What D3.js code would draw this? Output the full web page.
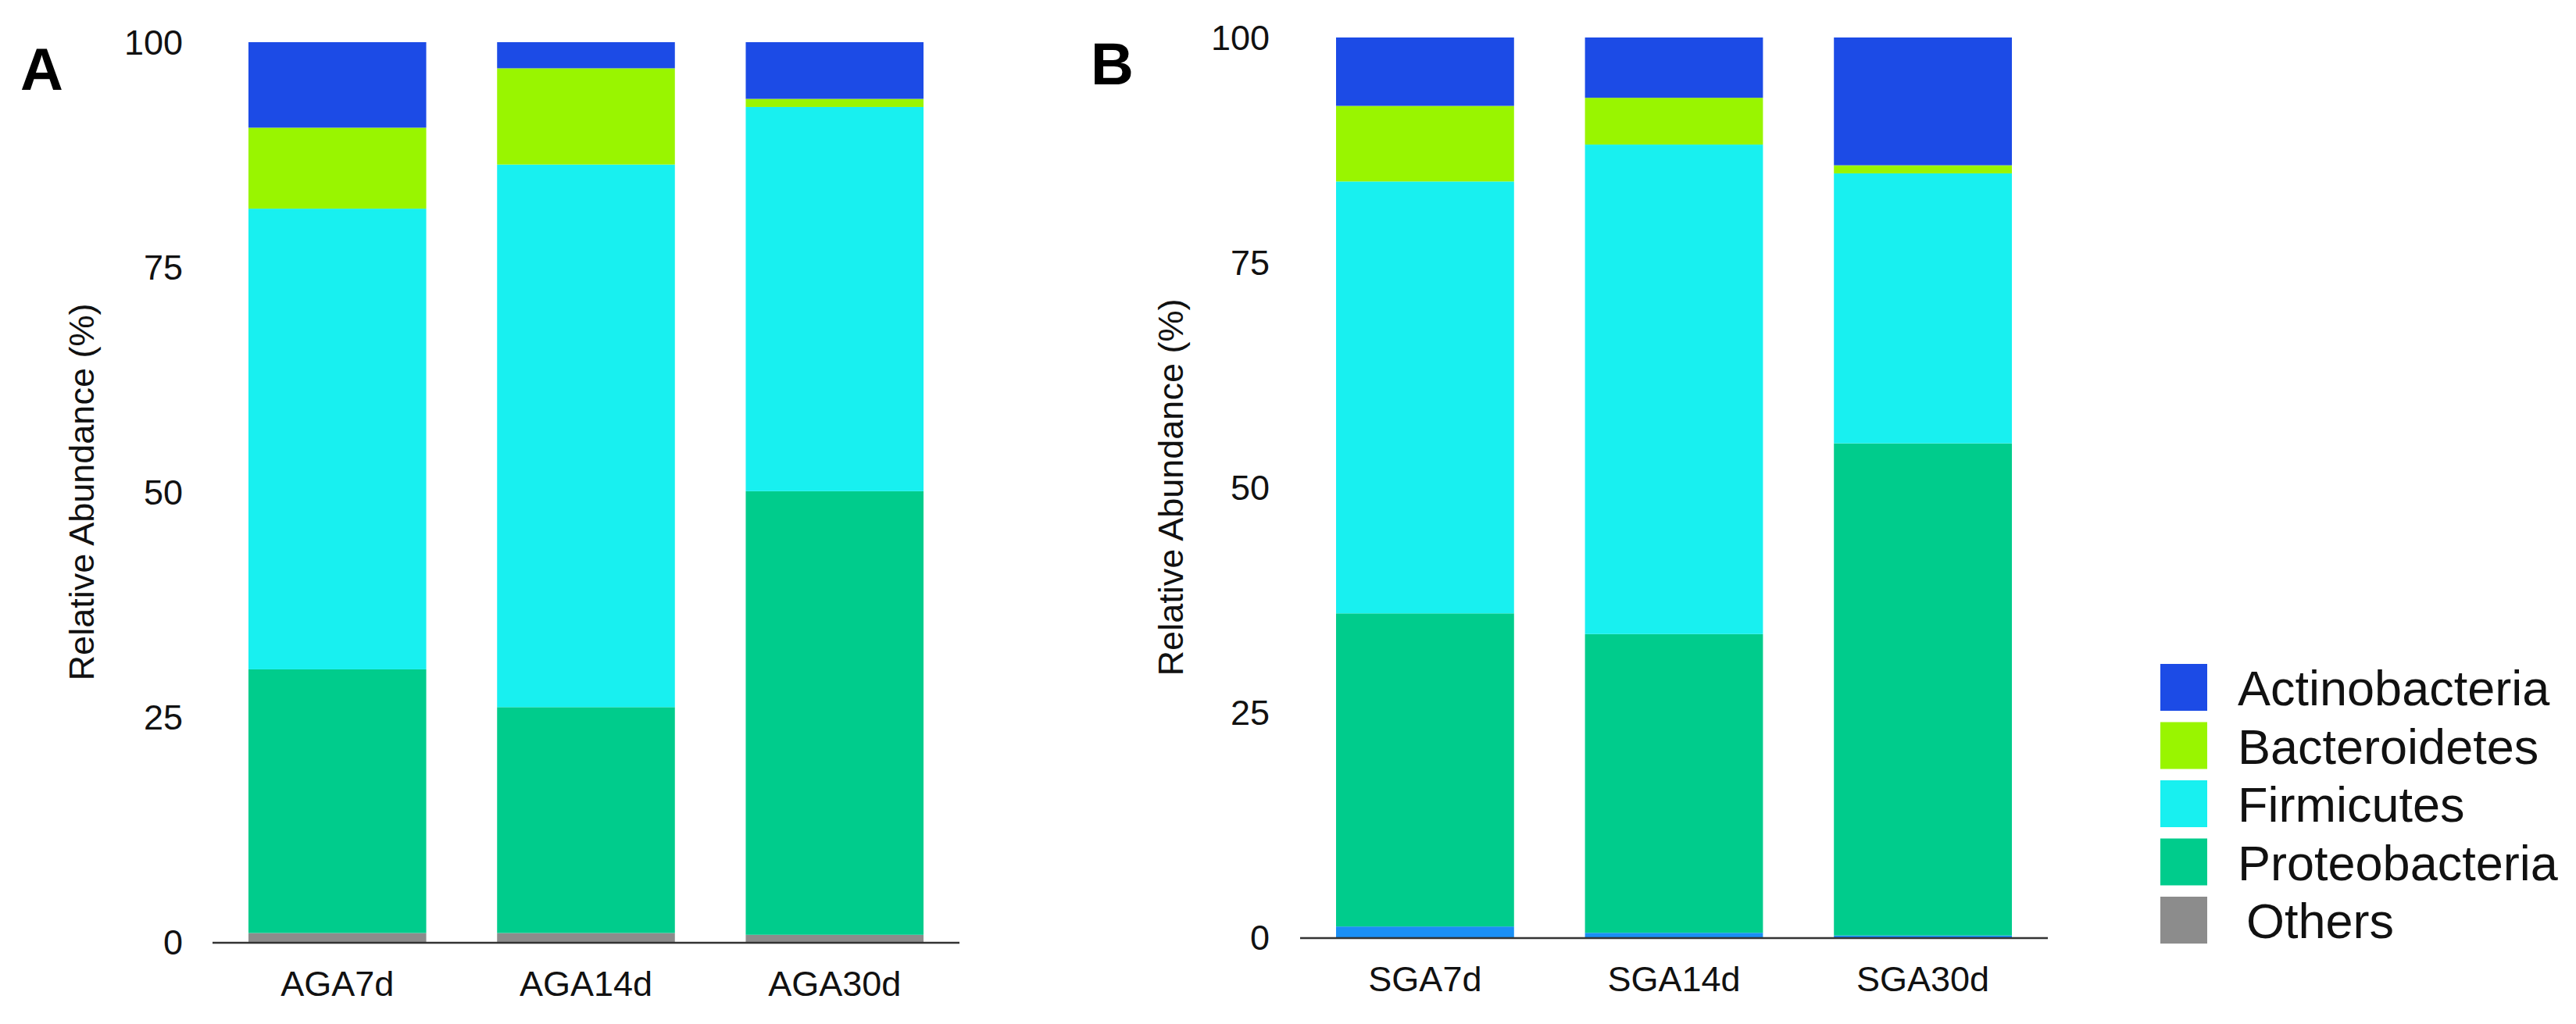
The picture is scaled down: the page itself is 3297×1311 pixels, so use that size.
<!DOCTYPE html>
<html>
<head>
<meta charset="utf-8">
<script src="https://cdn.jsdelivr.net/npm/d3@7/dist/d3.min.js"></script>
<style>
  html, body { margin: 0; padding: 0; background: #fff; }
  svg { display: block; font-family: "Liberation Sans", Arial, Helvetica, sans-serif; }
</style>
</head>
<body>
<svg id="chart" width="3297" height="1311"></svg>
<script>
// ---------- data ----------
const phyla = ["Others", "Proteobacteria", "Firmicutes", "Bacteroidetes", "Actinobacteria"]; // bottom -> top
const legendOrder = ["Actinobacteria", "Bacteroidetes", "Firmicutes", "Proteobacteria", "Others"];
const groupsA = ["AGA7d", "AGA14d", "AGA30d"];
const groupsB = ["SGA7d", "SGA14d", "SGA30d"];
const yTicks = [0, 25, 50, 75, 100];
const yTitle = "Relative Abundance (%)";

// values per phylum, in group order
const othersA   = [1.0, 1.0, 0.8];
const proteoA   = [29.3, 25.1, 49.3];
const firmA     = [51.2, 60.3, 42.7];
const bactA     = [9.0, 10.7, 0.9];
const actinoA   = [9.5, 2.9, 6.3];

const othersB   = [1.2, 0.5, 0.2];
const proteoB   = [34.8, 33.2, 54.7];
const firmB     = [48.0, 54.4, 30.0];
const bactB     = [8.4, 5.2, 0.9];
const actinoB   = [7.6, 6.7, 14.2];

// ---------- styles ----------
const colors = {
  Actinobacteria: "#1c4be6",
  Bacteroidetes: "#99f500",
  Firmicutes: "#18f0f0",
  Proteobacteria: "#00cc8c",
  Others: "#8c8c8c"
};
const othersColorB = "#1a8ff5";

function toRows(groups, o, p, f, b, a) {
  return groups.map((g, i) => ({
    group: g, Others: o[i], Proteobacteria: p[i], Firmicutes: f[i], Bacteroidetes: b[i], Actinobacteria: a[i]
  }));
}
const rowsA = toRows(groupsA, othersA, proteoA, firmA, bactA, actinoA);
const rowsB = toRows(groupsB, othersB, proteoB, firmB, bactB, actinoB);

const svg = d3.select("#chart");

function panel(cfg) {
  const g = svg.append("g");
  const x = d3.scaleBand().domain(cfg.groups).range([cfg.x0, cfg.x1]).paddingInner(0.285).paddingOuter(0);
  const y = d3.scaleLinear().domain([0, 100]).range([cfg.yBase, cfg.yTop]);
  const stack = d3.stack().keys(phyla)(cfg.rows);

  g.selectAll("g.layer").data(stack).join("g")
    .attr("class", "layer")
    .attr("fill", d => (d.key === "Others" && cfg.othersColor) ? cfg.othersColor : colors[d.key])
    .selectAll("rect").data(d => d).join("rect")
      .attr("x", d => x(d.data.group))
      .attr("width", x.bandwidth())
      .attr("y", d => y(d[1]))
      .attr("height", d => Math.max(0, y(d[0]) - y(d[1])));

  // baseline axis
  g.append("line")
    .attr("x1", cfg.axisX0).attr("x2", cfg.axisX1)
    .attr("y1", y(0) + 1).attr("y2", y(0) + 1)
    .attr("stroke", "#333").attr("stroke-width", 2.5);

  // y tick labels
  g.selectAll("text.ytick").data(yTicks).join("text")
    .attr("class", "ytick")
    .attr("x", cfg.tickRight)
    .attr("y", d => y(d))
    .attr("dy", "0.36em")
    .attr("text-anchor", "end")
    .attr("font-size", 45)
    .attr("fill", "#111")
    .text(d => d);

  // x labels
  g.selectAll("text.xlab").data(cfg.groups).join("text")
    .attr("class", "xlab")
    .attr("x", d => x(d) + x.bandwidth() / 2)
    .attr("y", y(0) + 69)
    .attr("text-anchor", "middle")
    .attr("font-size", 45)
    .attr("fill", "#111")
    .text(d => d);

  // y title
  g.append("text")
    .attr("transform", `translate(${cfg.titleX},${(y(0) + y(100)) / 2}) rotate(-90)`)
    .attr("text-anchor", "middle")
    .attr("font-size", 45)
    .attr("fill", "#111")
    .text(yTitle);

  // panel letter
  g.append("text")
    .attr("x", cfg.letterX).attr("y", cfg.letterY)
    .attr("font-size", 76).attr("font-weight", "bold")
    .attr("fill", "#000")
    .text(cfg.letter);
}

panel({ groups: groupsA, rows: rowsA, x0: 318, x1: 1182, yBase: 1206, yTop: 54,
        axisX0: 272, axisX1: 1228, tickRight: 234, titleX: 120, letter: "A", letterX: 26, letterY: 115 });
panel({ groups: groupsB, rows: rowsB, x0: 1710, x1: 2575, yBase: 1200, yTop: 48,
        axisX0: 1664, axisX1: 2621, tickRight: 1625, titleX: 1514, letter: "B", letterX: 1396, letterY: 108,
        othersColor: othersColorB });

// legend
const leg = svg.append("g");
const legY = d3.scalePoint().domain(legendOrder).range([850, 1148]);
leg.selectAll("rect").data(legendOrder).join("rect")
  .attr("x", 2765).attr("y", d => legY(d))
  .attr("width", 60).attr("height", 60)
  .attr("fill", d => colors[d]);
leg.selectAll("text").data(legendOrder).join("text")
  .attr("x", d => d === "Others" ? 2875 : 2864)
  .attr("y", d => legY(d) + 53)
  .attr("font-size", 63)
  .attr("fill", "#111")
  .text(d => d);
</script>
</body>
</html>
